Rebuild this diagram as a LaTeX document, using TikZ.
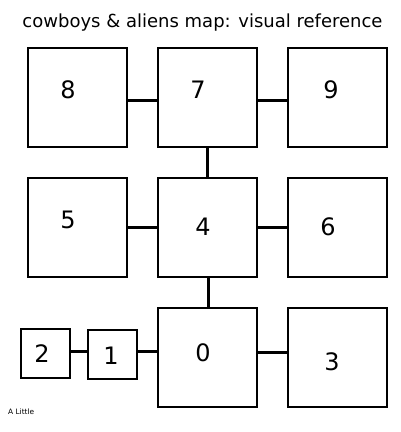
\documentclass[tikz,border=0pt]{standalone}
\usepackage{fontspec}
\setmainfont{DejaVu Sans}

\begin{document}
\begin{tikzpicture}[x=1pt, y=-1pt,
  room/.style={draw, line width=2pt, minimum size=99pt, outer sep=0pt, inner sep=0pt},
  closet/.style={room, minimum size=49pt},
  link/.style={line width=3pt},
  num/.style={font=\fontsize{24}{24}\selectfont, inner sep=0pt}]
\useasboundingbox (0,0) rectangle (400,432);

\node[font=\fontsize{18}{18}\selectfont, anchor=base] (title) at (202.5,27.5) {cowboys \& aliens map: visual reference};

\node[room] (b8) at (77,97) {};
\node[room] (b7) at (207,97) {};
\node[room] (b9) at (337,97) {};
\node[room] (b5) at (77,227) {};
\node[room] (b4) at (207,227) {};
\node[room] (b6) at (337,227) {};
\node[room] (b0) at (207,357) {};
\node[room] (b3) at (337,357) {};
\node[closet] (b2) at (45,353) {};
\node[closet] (b1) at (112,354) {};

\node[num] (n8) at (68,90) {8};
\node[num] (n7) at (198,90) {7};
\node[num] (n9) at (331,90) {9};
\node[num] (n5) at (68,220) {5};
\node[num] (n4) at (203,227) {4};
\node[num] (n6) at (328,227) {6};
\node[num] (n0) at (203,353) {0};
\node[num] (n3) at (332,362) {3};
\node[num] (n2) at (42,354) {2};
\node[num] (n1) at (111,356) {1};

\draw[link] ([yshift=-3pt]b8.east) -- ([yshift=-3pt]b7.west);
\draw[link] ([yshift=-3.5pt]b7.east) -- ([yshift=-3.5pt]b9.west);
\draw[link] (b5) -- (b4);
\draw[link] (b4) -- (b6);
\draw[link] (b7) -- (b4);
\draw[link] ([xshift=1pt]b4.south) -- ([xshift=1pt]b0.north);
\draw[link] ([yshift=2pt]b2.east) -- ([yshift=3pt]b1.west);
\draw[link] ([yshift=3pt]b1.east) -- ([yshift=6pt]b0.west);
\draw[link] ([yshift=5pt]b0.east) -- ([yshift=5pt]b3.west);

\node[font=\fontsize{7.4}{7.4}\selectfont, anchor=west, inner sep=0pt] (note) at (8,412) {A Little};
\end{tikzpicture}
\end{document}
